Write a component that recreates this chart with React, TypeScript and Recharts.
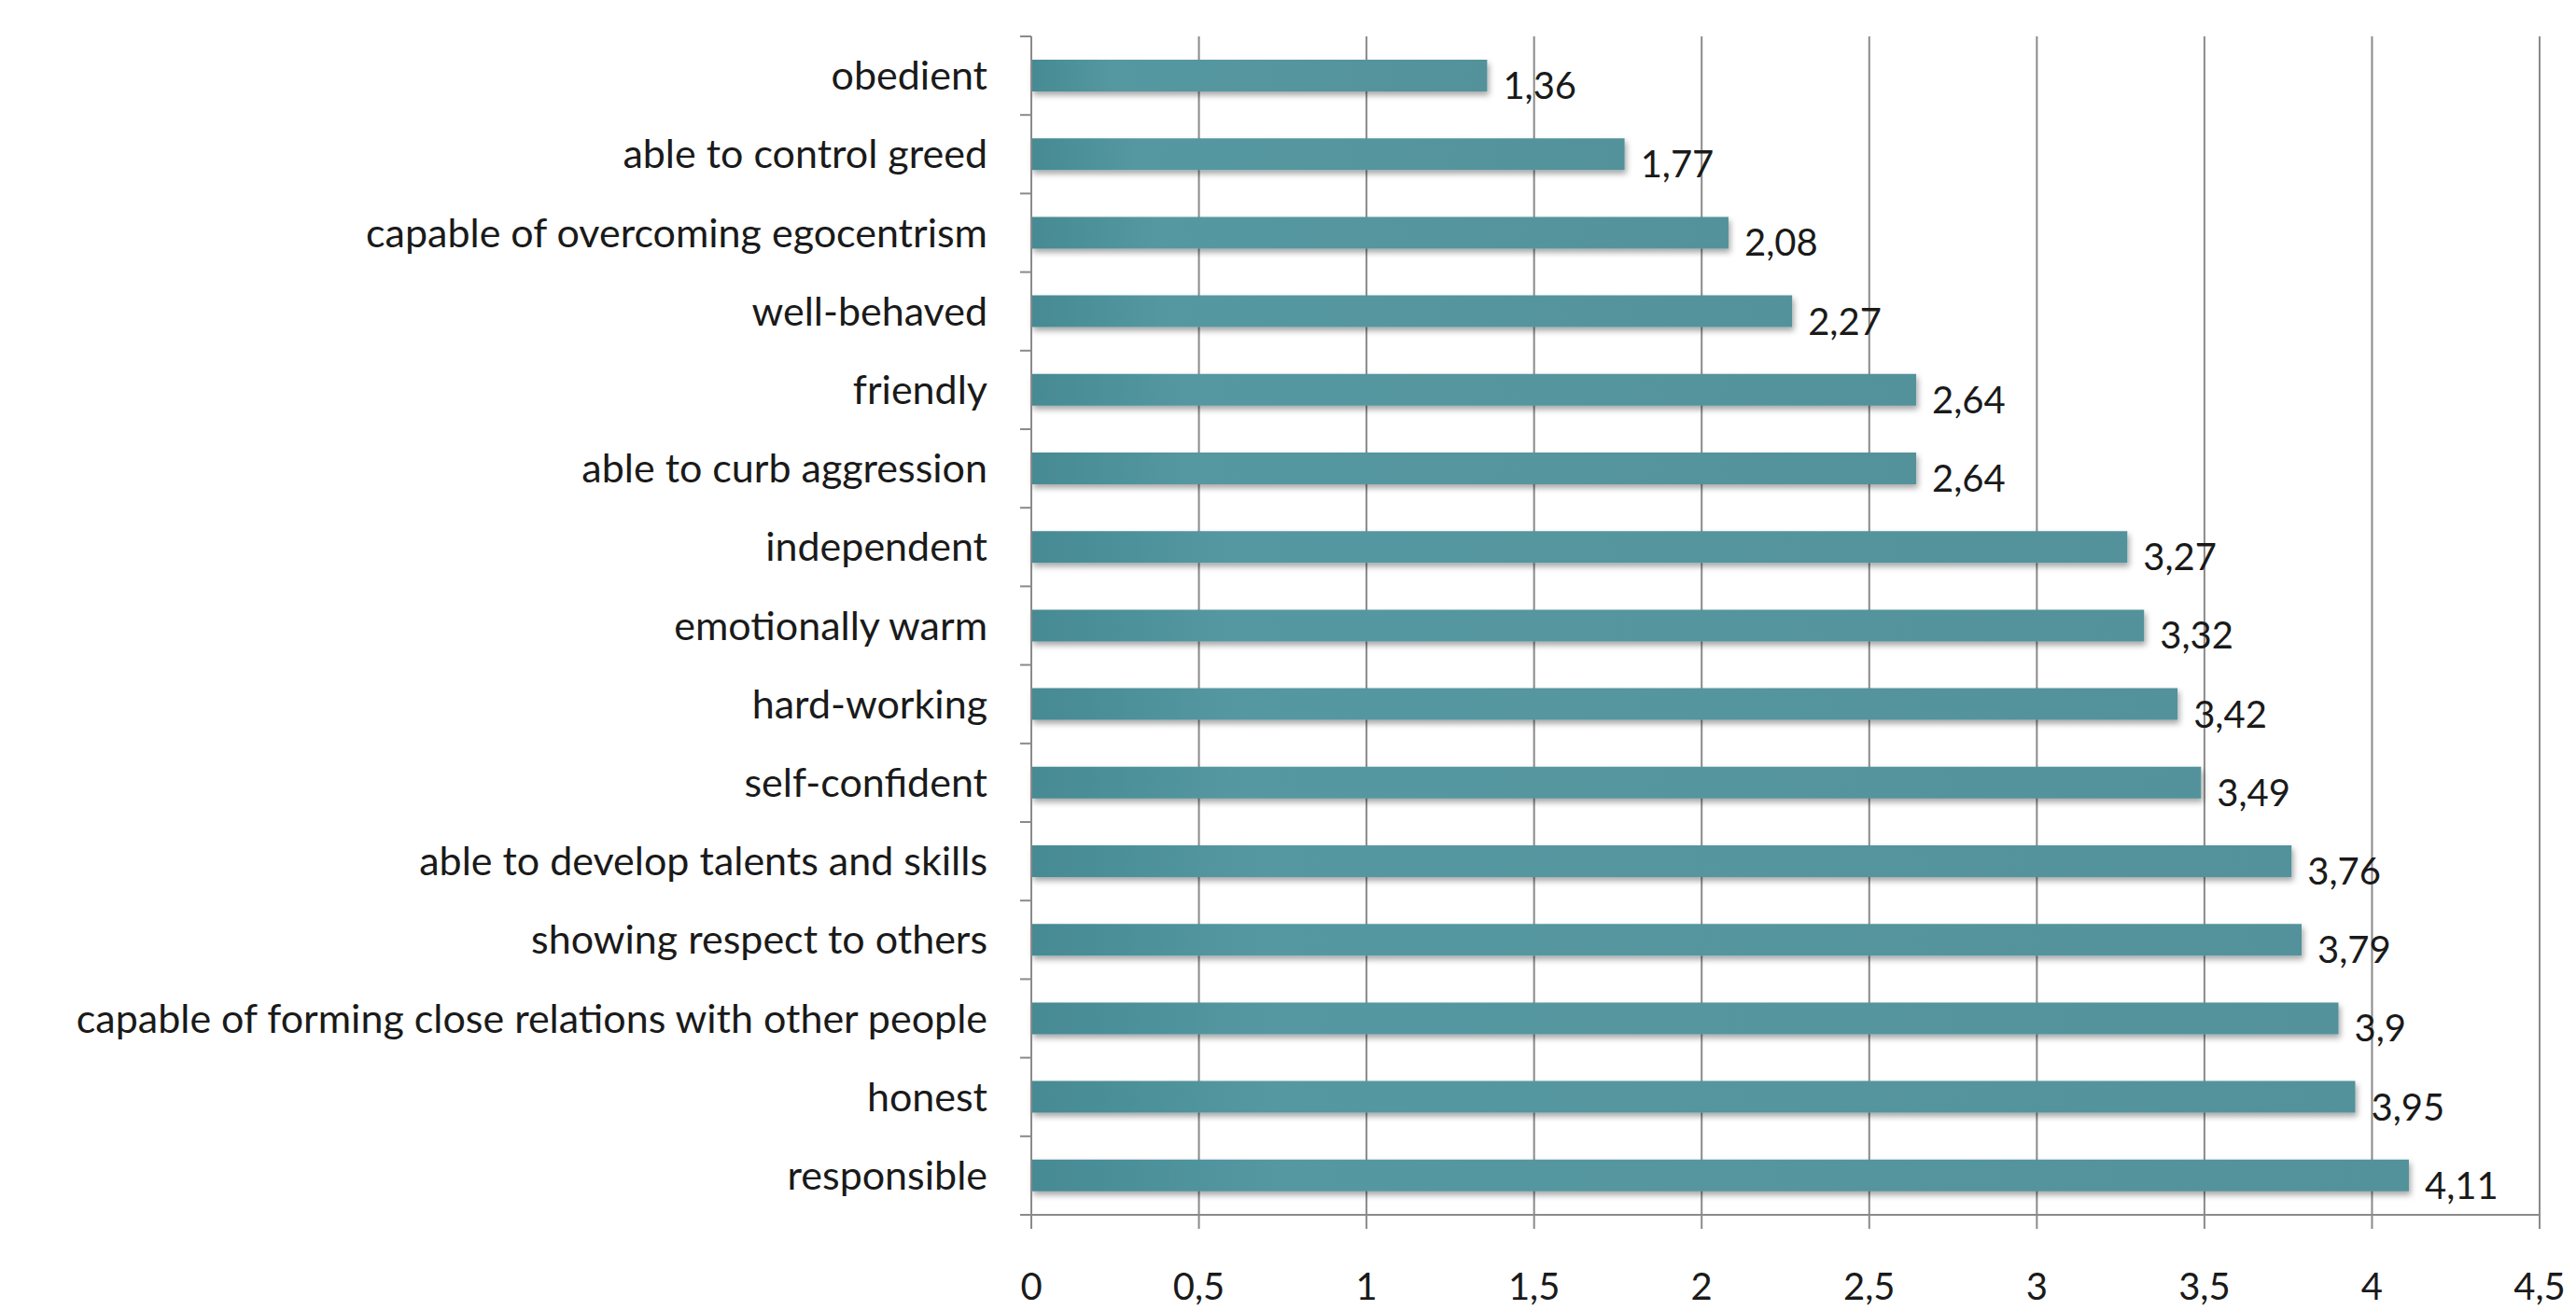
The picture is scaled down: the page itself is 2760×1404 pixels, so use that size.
import { BarChart, Bar, XAxis, YAxis, CartesianGrid, LabelList } from 'recharts'

const categories = [
  'obedient',
  'able to control greed',
  'capable of overcoming egocentrism',
  'well-behaved',
  'friendly',
  'able to curb aggression',
  'independent',
  'emotionally warm',
  'hard-working',
  'self-confident',
  'able to develop talents and skills',
  'showing respect to others',
  'capable of forming close relations with other people',
  'honest',
  'responsible',
]
const values = [1.36, 1.77, 2.08, 2.27, 2.64, 2.64, 3.27, 3.32, 3.42, 3.49, 3.76, 3.79, 3.9, 3.95, 4.11]
const xTicks = [0, 0.5, 1, 1.5, 2, 2.5, 3, 3.5, 4, 4.5]

const data = categories.map((name, i) => ({ name, value: values[i] }))

const W = 2744
const H = 1396
const MARGIN = { top: 31, right: 31, bottom: 12, left: 0 }
const X_AXIS_H = 90
const PLOT_H = H - MARGIN.top - MARGIN.bottom - X_AXIS_H
const BAND = PLOT_H / categories.length
const Y_TICK = 12
const Y_MARGIN = 35
const FONT = 'Lato, "Open Sans", sans-serif'
const AXIS = '#8a8a8a'

const fmt = (v: number) => String(v).replace('.', ',')

function CategoryTick(props: any) {
  const { x, y, payload, index } = props
  const ax = x + Y_TICK + Y_MARGIN
  return (
    <g>
      <line x1={ax - Y_TICK} x2={ax} y1={y - BAND / 2} y2={y - BAND / 2} stroke={AXIS} strokeWidth={2} />
      {index === categories.length - 1 && (
        <line x1={ax - Y_TICK} x2={ax} y1={y + BAND / 2} y2={y + BAND / 2} stroke={AXIS} strokeWidth={2} />
      )}
      <text x={x} y={y} dy="0.35em" textAnchor="end" fill="#1a1a1a" fontSize={43} fontFamily={FONT}>
        {payload.value}
      </text>
    </g>
  )
}

function ValueLabel(props: any) {
  const { x, y, width, height, value } = props
  return (
    <text x={x + width + 17} y={y + height / 2 + 11} dy="0.35em" fill="#1a1a1a" fontSize={40} fontFamily={FONT}>
      {fmt(value)}
    </text>
  )
}

export default function App() {
  return (
    <div style={{ background: '#fff' }}>
      <BarChart width={W} height={H} data={data} layout="vertical" margin={MARGIN}>
        <defs>
          <linearGradient id="barFill" x1="0" y1="0" x2="1" y2="0">
            <stop offset="0" stopColor="#468a93" />
            <stop offset="0.18" stopColor="#5598a1" />
            <stop offset="1" stopColor="#53929b" />
          </linearGradient>
          <filter id="barShadow" x="-5%" y="-30%" width="110%" height="180%">
            <feDropShadow dx="2" dy="4" stdDeviation="3" floodColor="#000" floodOpacity="0.35" />
          </filter>
        </defs>
        <CartesianGrid horizontal={false} stroke={AXIS} strokeWidth={2} />
        <XAxis
          type="number"
          domain={[0, 4.5]}
          ticks={xTicks}
          tickFormatter={fmt}
          height={X_AXIS_H}
          tickSize={15}
          tickMargin={48}
          stroke={AXIS}
          strokeWidth={2}
          tick={{ fill: '#1a1a1a', fontSize: 40, fontFamily: FONT }}
          interval={0}
        />
        <YAxis
          type="category"
          dataKey="name"
          width={1097}
          tickSize={Y_TICK}
          tickMargin={Y_MARGIN}
          tickLine={false}
          stroke={AXIS}
          strokeWidth={2}
          tick={<CategoryTick />}
          interval={0}
        />
        <Bar dataKey="value" barSize={34} fill="url(#barFill)" filter="url(#barShadow)" isAnimationActive={false}>
          <LabelList dataKey="value" content={<ValueLabel />} />
        </Bar>
      </BarChart>
    </div>
  )
}
